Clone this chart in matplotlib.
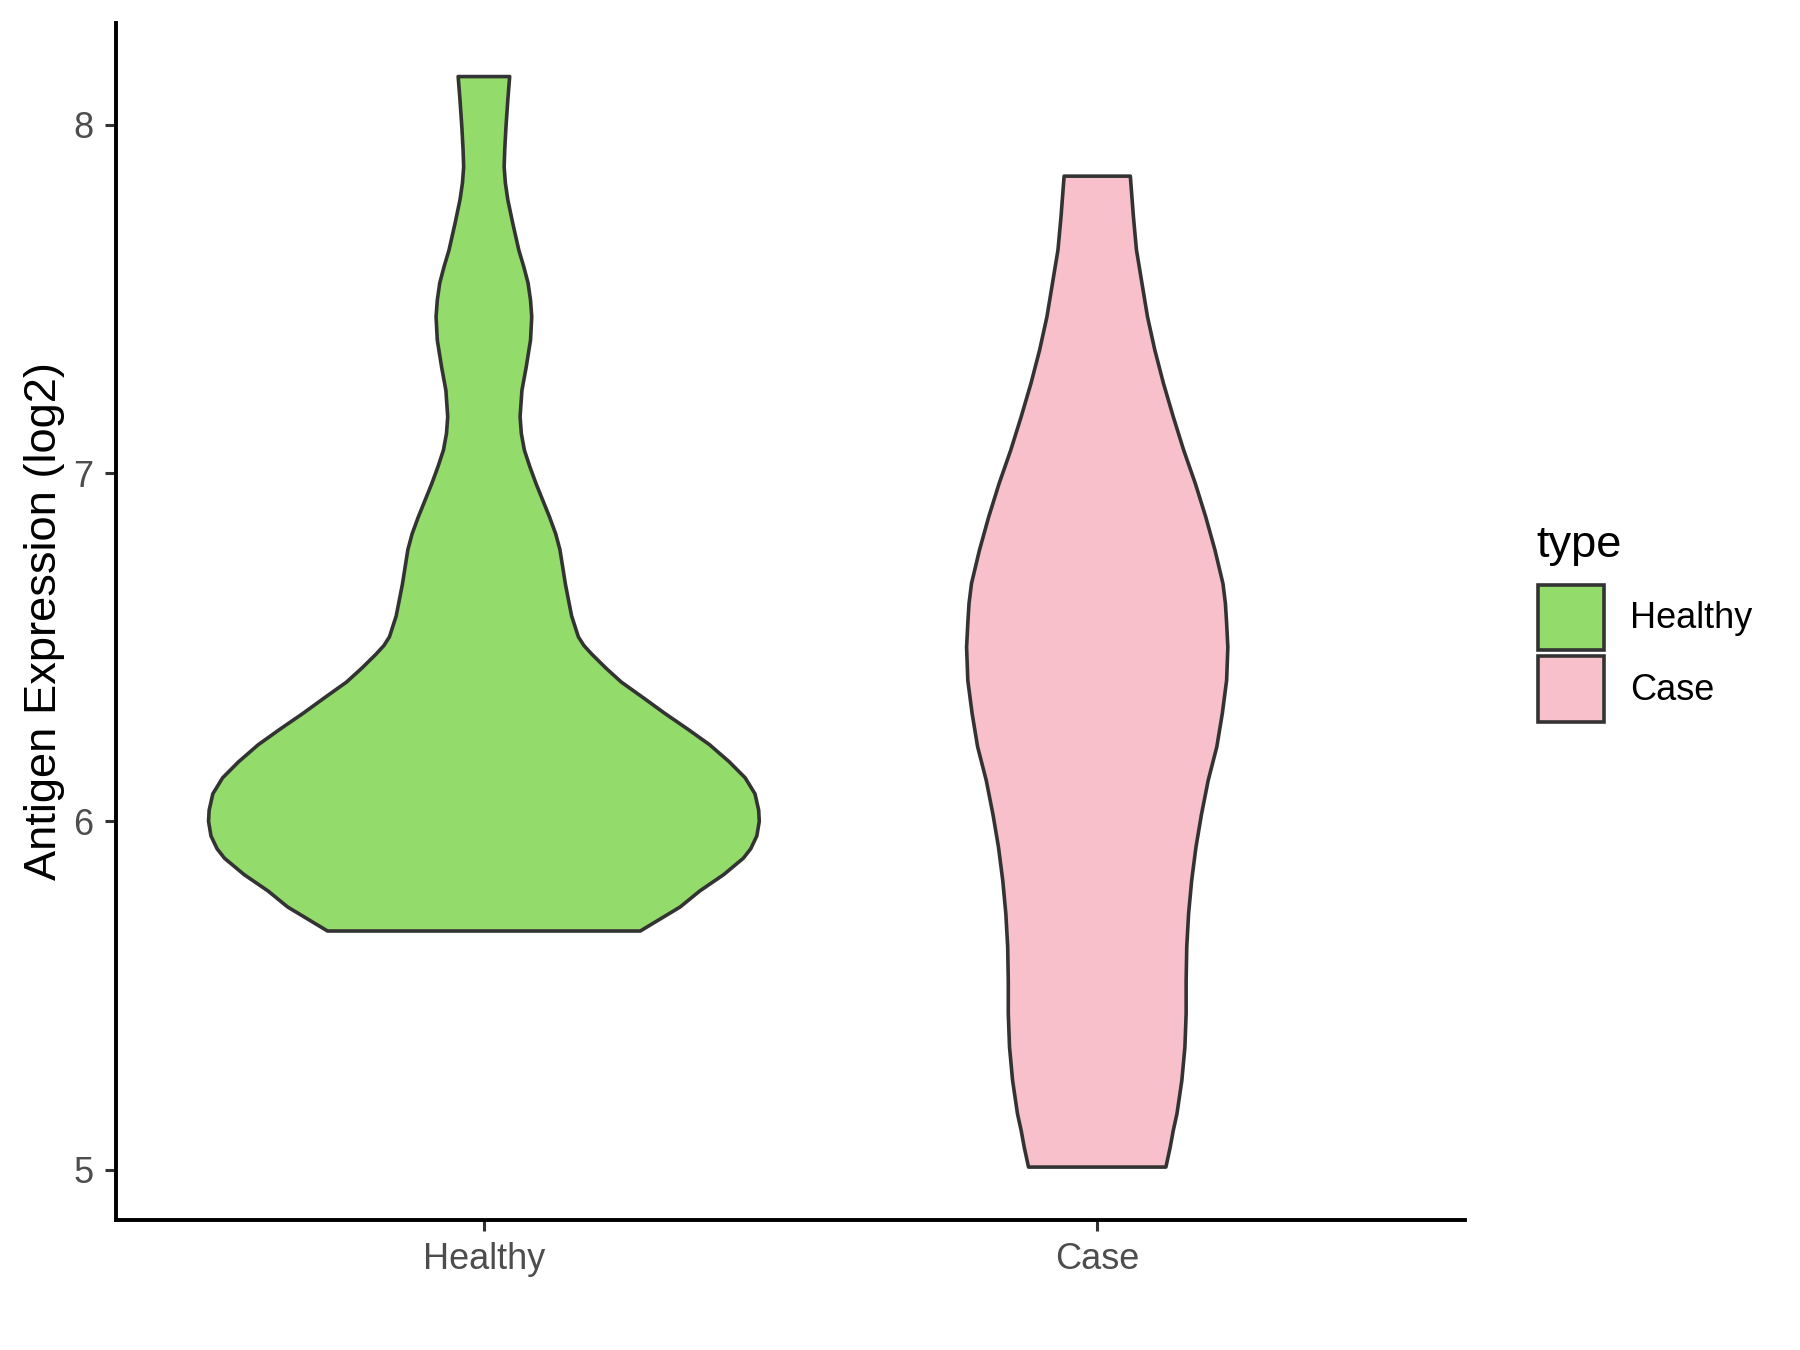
import matplotlib.pyplot as plt
from matplotlib.patches import Patch

plt.rcParams['font.family'] = ['Liberation Sans', 'DejaVu Sans']

# groups and colours
groups = ['Healthy', 'Case']
colors = ['#93DB6A', '#F7C0CB']

# violin outlines: expression value and half width
healthy_y = [5.685, 5.754, 5.80, 5.847, 5.894, 5.921, 5.958, 6.0, 6.032, 6.079,
             6.125, 6.171, 6.22, 6.264, 6.31, 6.356, 6.40, 6.44, 6.48, 6.505,
             6.53, 6.59, 6.68, 6.78, 6.826, 6.874, 6.922, 6.97, 7.018, 7.066,
             7.114, 7.162, 7.238, 7.305, 7.382, 7.449, 7.497, 7.546, 7.593, 7.64,
             7.718, 7.785, 7.833, 7.88, 7.93, 7.995, 8.072, 8.139]
healthy_hw = [0.255, 0.320, 0.352, 0.391, 0.423, 0.435, 0.445, 0.449, 0.448, 0.442,
              0.426, 0.400, 0.368, 0.333, 0.295, 0.259, 0.224, 0.199, 0.176, 0.163,
              0.154, 0.143, 0.133, 0.124, 0.117, 0.107, 0.096, 0.085, 0.075, 0.066,
              0.061, 0.059, 0.062, 0.069, 0.076, 0.078, 0.076, 0.072, 0.065, 0.057,
              0.047, 0.039, 0.035, 0.033, 0.034, 0.036, 0.039, 0.042]

case_y = [5.007, 5.064, 5.112, 5.16, 5.256, 5.352, 5.448, 5.543, 5.64, 5.735,
          5.83, 5.926, 6.02, 6.118, 6.214, 6.31, 6.405, 6.5, 6.569, 6.626,
          6.683, 6.779, 6.874, 6.970, 7.066, 7.162, 7.258, 7.353, 7.449, 7.545,
          7.641, 7.737, 7.853]
case_hw = [0.112, 0.119, 0.124, 0.130, 0.138, 0.143, 0.145, 0.145, 0.146, 0.149,
           0.154, 0.161, 0.170, 0.181, 0.195, 0.204, 0.211, 0.213, 0.211, 0.209,
           0.205, 0.192, 0.177, 0.160, 0.141, 0.124, 0.108, 0.094, 0.082, 0.073,
           0.064, 0.059, 0.054]

profiles = [(healthy_y, healthy_hw), (case_y, case_hw)]

fig = plt.figure(figsize=(9, 6.75), dpi=200)
ax = fig.add_axes([0.0644, 0.0963, 0.7496, 0.8867])

for i, (ys, hws) in enumerate(profiles):
    pos = i + 1
    xs = [pos - w for w in hws] + [pos + w for w in hws[::-1]]
    yy = list(ys) + list(ys[::-1])
    ax.fill(xs, yy, facecolor=colors[i], edgecolor='#333333', linewidth=1.3,
            joinstyle='round')

ax.set_xlim(0.4, 2.6)
ax.set_ylim(4.855, 8.293)
ax.set_xticks([1, 2])
ax.set_xticklabels(groups)
ax.set_yticks([5, 6, 7, 8])
ax.set_ylabel('Antigen Expression (log2)', fontsize=16.3, labelpad=3)

for s in ['top', 'right']:
    ax.spines[s].set_visible(False)
for s in ['left', 'bottom']:
    ax.spines[s].set_linewidth(1.4)
    ax.spines[s].set_color('black')
ax.tick_params(length=4, width=1.1, color='#333333', labelsize=13,
               labelcolor='#4D4D4D', pad=4)

# legend: title as its own text, keys below it
fig.text(0.8533, 0.5874, 'type', fontsize=16.3, va='baseline', ha='left')
handles = [Patch(facecolor=c, edgecolor='#333333', linewidth=1.3) for c in colors]
leg = fig.legend(handles, groups, loc='upper left',
                 bbox_to_anchor=(0.8546, 0.567), frameon=False, fontsize=13,
                 handlelength=1.83, handleheight=2.41, borderpad=0,
                 borderaxespad=0, labelspacing=0.17, handletextpad=0.7)

fig.savefig('out.png', dpi=200)
